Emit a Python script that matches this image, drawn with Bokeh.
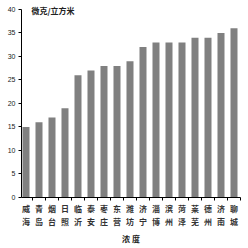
from bokeh.plotting import figure
from bokeh.models import Range1d, FixedTicker, LinearAxis, Label
from bokeh.embed import file_html
from bokeh.resources import INLINE

cities = ["威海", "青岛", "烟台", "日照", "临沂", "泰安", "枣庄", "东营", "潍坊",
          "济宁", "淄博", "滨州", "菏泽", "莱芜", "德州", "济南", "聊城"]
values = [15, 16, 17, 19, 26, 27, 28, 28, 29, 32, 33, 33, 33, 34, 34, 35, 36]
y_ticks = [0, 5, 10, 15, 20, 25, 30, 35, 40]
unit_label = "微克/立方米"
x_title = "浓 度"

n = len(cities)
xs = [i + 0.5 for i in range(n)]

p = figure(width=248, height=248, output_backend="svg", toolbar_location=None,
           x_range=Range1d(0.154, n), y_range=Range1d(0, 41.7),
           min_border_left=21, min_border_right=8, min_border_top=1, min_border_bottom=51)
p.outline_line_color = None
p.grid.visible = False
p.background_fill_color = "white"
p.border_fill_color = "white"

p.vbar(x=xs, top=values, width=0.54, bottom=0, color="#808080", line_color=None)

p.yaxis.ticker = FixedTicker(ticks=y_ticks)
p.yaxis.bounds = (0, 40)
p.yaxis.minor_tick_line_color = None
p.yaxis.major_tick_out = 3
p.yaxis.major_tick_in = 0
p.yaxis.major_label_standoff = 3
p.yaxis.major_label_text_font = "Liberation Sans"
p.yaxis.major_label_text_font_size = "7px"
p.yaxis.major_label_text_color = "#222222"
p.yaxis.axis_line_color = "black"
p.yaxis.major_tick_line_color = "black"

p.xaxis.ticker = FixedTicker(ticks=list(range(1, n + 1)))
p.xaxis.minor_tick_line_color = None
p.xaxis.major_tick_out = 3
p.xaxis.major_tick_in = 0
p.xaxis.major_label_standoff = 0
p.xaxis.major_label_text_font_size = "0px"
p.xaxis.major_label_text_alpha = 0
p.xaxis.axis_line_color = "black"
p.xaxis.major_tick_line_color = "black"

cat_axis = LinearAxis(ticker=FixedTicker(ticks=xs),
                      major_label_overrides={x: c[0] + "\n" + c[1] for x, c in zip(xs, cities)})
cat_axis.axis_line_color = None
cat_axis.major_tick_line_color = None
cat_axis.minor_tick_line_color = None
cat_axis.major_tick_out = 0
cat_axis.major_tick_in = 0
cat_axis.major_label_standoff = 2
cat_axis.major_label_text_font = "Noto Sans CJK SC"
cat_axis.major_label_text_font_size = "8px"
cat_axis.major_label_text_font_style = "bold"
cat_axis.major_label_text_color = "#333333"
cat_axis.axis_label = x_title
cat_axis.axis_label_standoff = 3
cat_axis.axis_label_text_font = "Noto Sans CJK SC"
cat_axis.axis_label_text_font_size = "8px"
cat_axis.axis_label_text_font_style = "bold"
cat_axis.axis_label_text_color = "#222222"
p.add_layout(cat_axis, "below")

p.add_layout(Label(x=0.92, y=39.8, text=unit_label, text_align="left", text_baseline="middle",
                   text_font="Noto Sans CJK SC", text_font_size="8px", text_font_style="bold",
                   text_color="#222222"))

open("out.html", "w").write(file_html(p, INLINE))
